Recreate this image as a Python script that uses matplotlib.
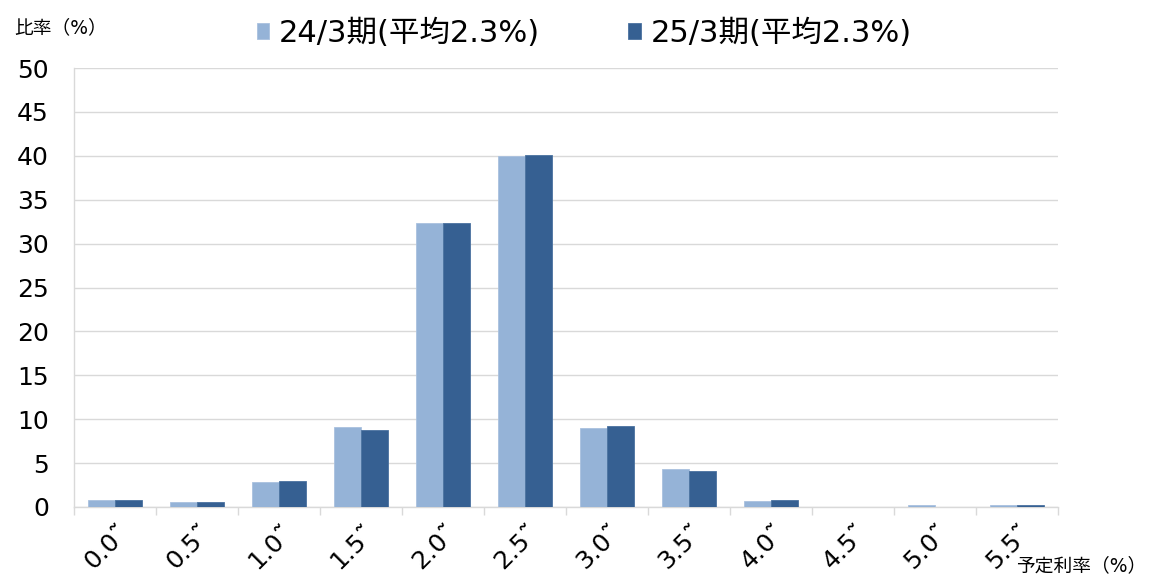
import numpy as np
import matplotlib.pyplot as plt
import matplotlib.transforms as mtransforms

plt.rcParams['font.family'] = ['DejaVu Sans', 'Noto Sans CJK JP']

# Data
categories = ['0.0˜', '0.5˜', '1.0˜', '1.5˜', '2.0˜', '2.5˜',
              '3.0˜', '3.5˜', '4.0˜', '4.5˜', '5.0˜', '5.5˜']
fy24 = [0.8, 0.6, 2.8, 9.1, 32.3, 40.0, 9.0, 4.3, 0.7, 0.0, 0.2, 0.2]
fy25 = [0.8, 0.6, 3.0, 8.8, 32.4, 40.1, 9.2, 4.1, 0.8, 0.0, 0.0, 0.2]
label24 = '24/3期(平均2.3%)'
label25 = '25/3期(平均2.3%)'

c_light = '#95B3D7'
c_dark = '#366092'
grid_c = '#D9D9D9'

fig = plt.figure(figsize=(11.49, 5.78), dpi=100)
ax = fig.add_axes([74 / 1149, 71 / 578, 984 / 1149, 439 / 578])

x = np.arange(len(categories))
w = 0.33
ax.bar(x - w / 2, fy24, width=w, color=c_light, edgecolor='#A9C1DF', linewidth=0.6,
       label=label24, zorder=3)
ax.bar(x + w / 2, fy25, width=w, color=c_dark, edgecolor='#4A72A0', linewidth=0.6,
       label=label25, zorder=3)

ax.set_xlim(-0.5, len(categories) - 0.5)
ax.set_ylim(0, 50)
ax.set_yticks(np.arange(0, 51, 5))
ax.yaxis.grid(True, color=grid_c, linewidth=1.0, zorder=0)
ax.tick_params(axis='y', length=0, labelsize=18, pad=18)

ax.set_xticks(x)
ax.set_xticklabels(categories, rotation=45, ha='center', va='top', fontsize=18)
ax.set_xticks(np.arange(-0.5, len(categories), 1), minor=True)
ax.tick_params(axis='x', which='major', length=0, pad=9)
ax.tick_params(axis='x', which='minor', length=6, color=grid_c, width=1.0)

# nudge rotated labels a little to the left, like the original
shift = mtransforms.ScaledTranslation(-0.08, 0, fig.dpi_scale_trans)
for lab in ax.get_xticklabels():
    lab.set_transform(lab.get_transform() + shift)

for s in ['top', 'right']:
    ax.spines[s].set_visible(False)
for s in ['left', 'bottom']:
    ax.spines[s].set_color(grid_c)
    ax.spines[s].set_linewidth(1.0)

fig.text(14 / 1149, 1 - 28 / 578, '比率（%）', fontsize=13.5, va='center', ha='left')
fig.text(1146 / 1149, 1 - 566 / 578, '予定利率（%）', fontsize=13.5, va='center', ha='right')

fig.legend(loc='center', bbox_to_anchor=(584 / 1149, 1 - 33 / 578), ncol=2,
           frameon=False, fontsize=22, handlelength=0.42, handleheight=0.42,
           handletextpad=0.3, columnspacing=2.9)

fig.savefig('out.png', dpi=100)
